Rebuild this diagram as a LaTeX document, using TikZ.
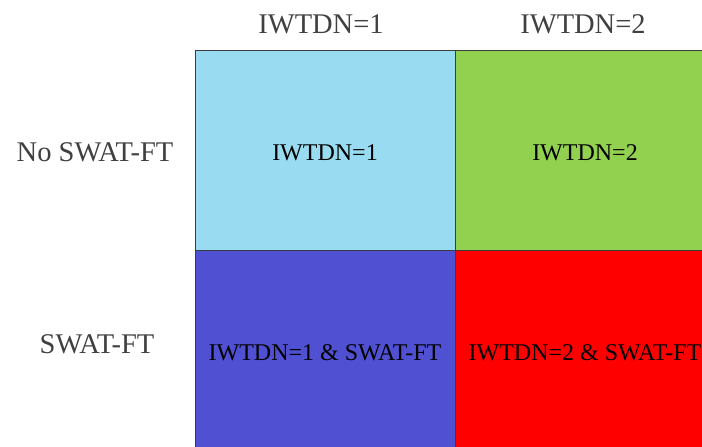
\documentclass[tikz,border=0pt]{standalone}
\usepackage{fontspec}
\setmainfont{Liberation Serif}
\definecolor{gridsky}{RGB}{153,220,242}
\definecolor{gridgreen}{RGB}{146,208,80}
\definecolor{gridblue}{RGB}{80,80,210}
\definecolor{gridred}{RGB}{255,0,0}
\definecolor{gridline}{RGB}{60,60,60}
\definecolor{headgray}{RGB}{64,64,64}
\tikzset{
  cellbox/.style={draw=gridline, line width=1pt, minimum width=260pt, minimum height=200pt,
    inner sep=0pt, text height=21pt, text depth=0pt, font=\fontsize{24}{26}\selectfont},
  headtext/.style={anchor=base, text=headgray, font=\fontsize{28.5}{31}\selectfont}
}

\begin{document}
\begin{tikzpicture}[x=1pt,y=-1pt]
  \useasboundingbox (0,0) rectangle (702,447);
  \clip (0,0) rectangle (702,447);
  % grid cells
  \foreach \x/\y/\col/\txt/\nm in {325/150/gridsky/IWTDN=1/c11, 585/150/gridgreen/IWTDN=2/c12,
      325/350/gridblue/IWTDN=1 \& SWAT-FT/c21, 585/350/gridred/IWTDN=2 \& SWAT-FT/c22} {
    \node[cellbox, fill=\col] (\nm) at (\x,\y) {\txt};
  }
  % column and row headings
  \node[headtext] (col1) at (321,33) {IWTDN=1};
  \node[headtext] (col2) at (583,33) {IWTDN=2};
  \node[headtext] (row1) at (95,161) {No SWAT-FT};
  \node[headtext] (row2) at (97,353) {SWAT-FT};
\end{tikzpicture}
\end{document}
